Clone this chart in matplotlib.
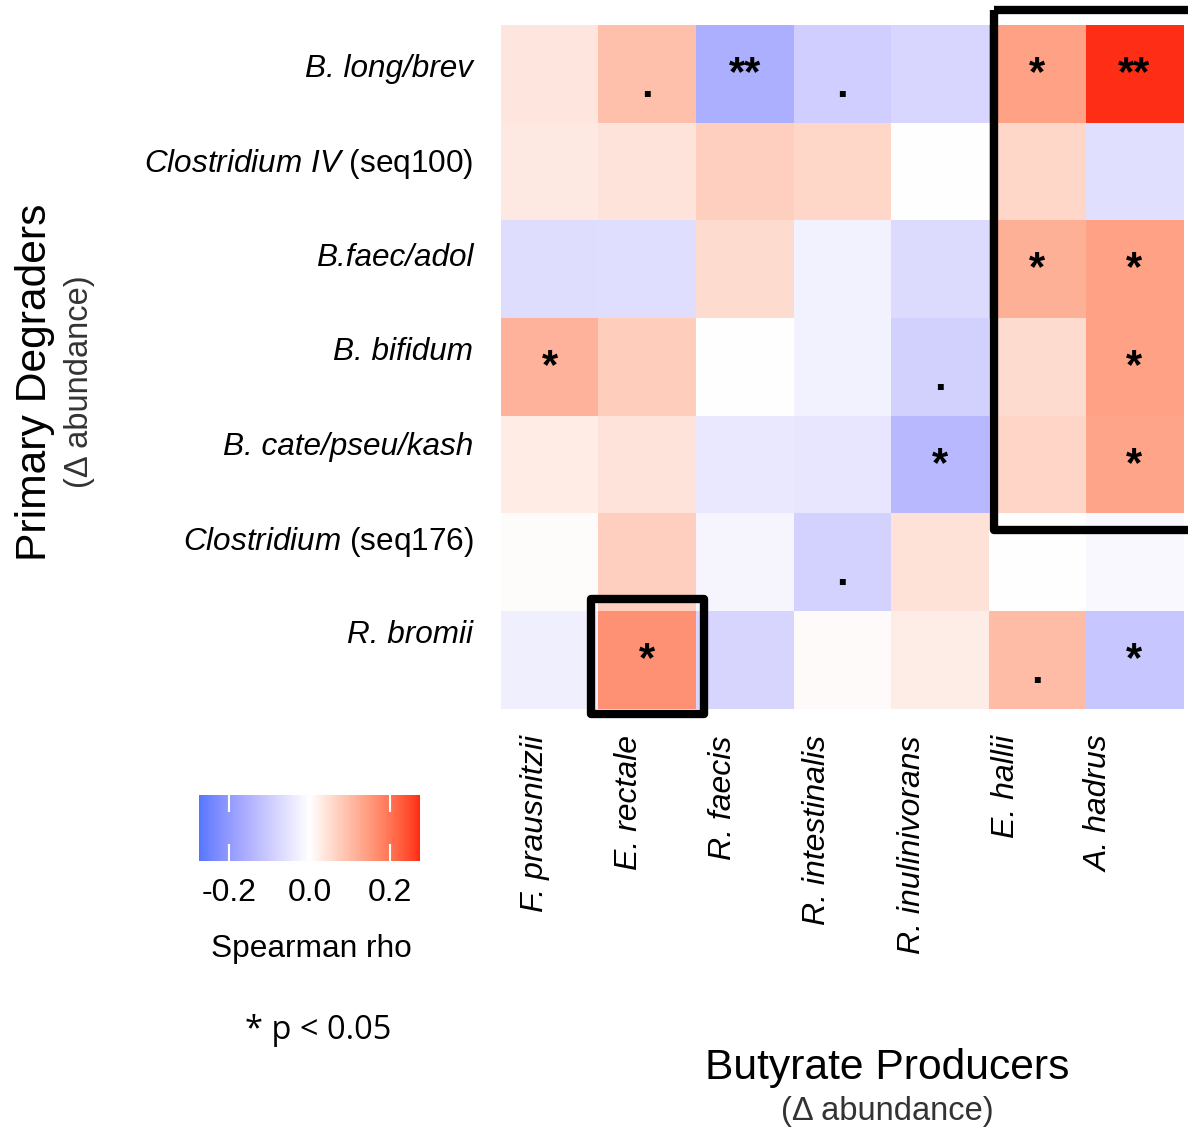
import numpy as np
import matplotlib.pyplot as plt
from matplotlib.colors import ListedColormap, Normalize, to_rgb
from matplotlib.patches import Rectangle

plt.rcParams['font.family'] = 'Liberation Sans'
plt.rcParams['mathtext.fontset'] = 'custom'
plt.rcParams['mathtext.rm'] = 'Liberation Sans'
plt.rcParams['mathtext.it'] = 'Liberation Sans:italic'

degraders = ['B. long/brev',
             r'$\mathit{Clostridium\ IV}$ (seq100)',
             'B.faec/adol',
             'B. bifidum',
             'B. cate/pseu/kash',
             r'$\mathit{Clostridium}$ (seq176)',
             'R. bromii']
producers = ['F. prausnitzii', 'E. rectale', 'R. faecis', 'R. intestinalis',
             'R. inulinivorans', 'E. hallii', 'A. hadrus']

# spearman rho, one row per degrader
rho = [[0.036, 0.094, -0.157, -0.092, -0.078, 0.140, 0.272],
       [0.032, 0.040, 0.072, 0.060, 0.000, 0.059, -0.059],
       [-0.064, -0.063, 0.054, -0.025, -0.068, 0.118, 0.140],
       [0.113, 0.074, 0.000, -0.025, -0.087, 0.053, 0.139],
       [0.028, 0.041, -0.043, -0.048, -0.138, 0.061, 0.134],
       [0.005, 0.072, -0.018, -0.086, 0.042, 0.000, -0.013],
       [-0.029, 0.160, -0.080, 0.006, 0.026, 0.101, -0.110]]
sig = [['', '.', '**', '.', '', '*', '**'],
       ['', '', '', '', '', '', ''],
       ['', '', '', '', '', '*', '*'],
       ['*', '', '', '', '.', '', '*'],
       ['', '', '', '', '*', '', '*'],
       ['', '', '', '.', '', '', ''],
       ['', '*', '', '', '', '.', '*']]


# diverging gradient interpolated in CIE Lab (low -> white -> high)
def to_lab(c):
    c = np.asarray(c, float)
    lin = np.where(c <= 0.04045, c / 12.92, ((c + 0.055) / 1.055) ** 2.4)
    m = np.array([[0.4124, 0.3576, 0.1805],
                  [0.2126, 0.7152, 0.0722],
                  [0.0193, 0.1192, 0.9505]])
    xyz = m @ lin / np.array([0.95047, 1.0, 1.08883])
    f = np.where(xyz > 0.008856, np.cbrt(xyz), 7.787 * xyz + 16 / 116)
    return np.array([116 * f[1] - 16, 500 * (f[0] - f[1]), 200 * (f[1] - f[2])])


def from_lab(lab):
    fy = (lab[0] + 16) / 116
    f = np.array([fy + lab[1] / 500, fy, fy - lab[2] / 200])
    xyz = np.where(f ** 3 > 0.008856, f ** 3, (f - 16 / 116) / 7.787)
    xyz = xyz * np.array([0.95047, 1.0, 1.08883])
    m = np.array([[3.2406, -1.5372, -0.4986],
                  [-0.9689, 1.8758, 0.0415],
                  [0.0557, -0.2040, 1.0570]])
    lin = np.clip(m @ xyz, 0, 1)
    c = np.where(lin <= 0.0031308, 12.92 * lin, 1.055 * lin ** (1 / 2.4) - 0.055)
    return np.clip(c, 0, 1)


low, mid, high = to_lab(to_rgb('#5577FF')), to_lab(to_rgb('#FFFFFF')), to_lab(to_rgb('#FF2A14'))
cols = []
for t in np.linspace(0, 1, 257):
    if t < 0.5:
        lab = low + (mid - low) * (t / 0.5)
    else:
        lab = mid + (high - mid) * ((t - 0.5) / 0.5)
    cols.append(from_lab(lab))
cmap = ListedColormap(cols)
norm = Normalize(vmin=-0.275, vmax=0.275)

fig = plt.figure(figsize=(11.88, 11.32), dpi=100)
ax = fig.add_axes([0.4217, 0.3737, 0.5742, 0.6042])
ax.imshow(np.array(rho), cmap=cmap, norm=norm, aspect='auto',
          extent=(0, 7, 7, 0), interpolation='nearest')

for i in range(7):
    for j in range(7):
        s = sig[i][j]
        if s:
            # the dot glyph sits on the baseline, push it a bit lower
            y = i + 0.62 if s == '.' else i + 0.5
            ax.text(j + 0.5, y, s, ha='center', va='center',
                    fontsize=30, fontweight='bold', color='black')

# label columns sit a bit tighter than the cells
ax.set_xticks(np.arange(7) * 0.966 + 0.35)
ax.set_xticklabels(producers, rotation=90, fontsize=23, style='italic')
ax.set_yticks(np.arange(7) * 0.967 + 0.41)
ax.set_yticklabels(degraders, fontsize=22.7)
for lbl in ax.get_yticklabels():
    if '$' not in lbl.get_text():
        lbl.set_fontstyle('italic')
ax.tick_params(axis='x', length=0, pad=19)
ax.tick_params(axis='y', length=0, pad=20)
ax.set_xlim(0, 7)
ax.set_ylim(7, 0)
for s in ax.spines.values():
    s.set_visible(False)

# highlight boxes
ax.add_patch(Rectangle((5.06, -0.15), 2.5, 5.32, fill=False, lw=6,
                       ec='black', joinstyle='round', clip_on=False, zorder=5))
ax.add_patch(Rectangle((0.92, 5.87), 1.16, 1.18, fill=False, lw=6,
                       ec='black', joinstyle='round', clip_on=False, zorder=5))

# colour bar
cax = fig.add_axes([0.1675, 0.2394, 0.186, 0.0583])
cb = fig.colorbar(plt.cm.ScalarMappable(norm=norm, cmap=cmap), cax=cax,
                  orientation='horizontal', ticks=[-0.2, 0.0, 0.2])
cb.outline.set_visible(False)
cb.ax.set_xticklabels(['-0.2', '0.0', '0.2'])
cax.tick_params(axis='x', direction='in', color='white', length=12, width=1.5,
                top=True, bottom=True, labelsize=23, pad=12)
fig.text(0.262, 0.1615, 'Spearman rho', ha='center', va='center', fontsize=22.8)
fig.text(0.268, 0.0895, '* p < 0.05', ha='center', va='center', fontsize=23.5,
         family='Open Sans')

fig.text(0.0295, 0.6625, 'Primary Degraders', rotation=90, ha='center',
         va='center', fontsize=30.7)
fig.text(0.0665, 0.6625, '(\u0394 abundance)', rotation=90, ha='center',
         va='center', fontsize=23.5, color='#333333')
fig.text(0.7466, 0.0565, 'Butyrate Producers', ha='center', va='center',
         fontsize=30.7)
fig.text(0.7466, 0.0177, '(\u0394 abundance)', ha='center', va='center',
         fontsize=23.5, color='#333333')

fig.savefig('out.png', dpi=100)
